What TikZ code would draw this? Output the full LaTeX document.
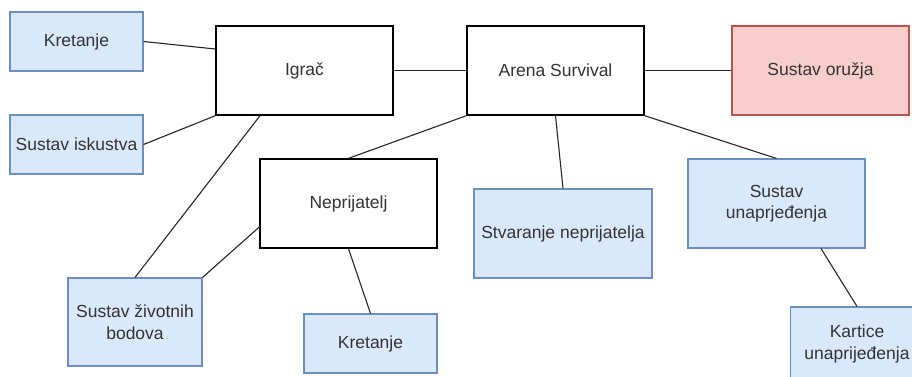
\documentclass[tikz,border=0pt]{standalone}
\usepackage{fontspec}
\setmainfont{Liberation Sans}
\definecolor{bluefill}{HTML}{DAE8FC}
\definecolor{bluestroke}{HTML}{6C8EBF}
\definecolor{redfill}{HTML}{F8CECC}
\definecolor{redstroke}{HTML}{B85450}
\definecolor{txt}{HTML}{333333}
\begin{document}
\begin{tikzpicture}[x=1pt,y=-1pt,
  box/.style={rectangle, inner sep=2pt, align=center, text=txt,
    font=\fontsize{17.5}{21.5}\selectfont},
  plain/.style={box, draw=black, line width=1.4pt, fill=white},
  bluebox/.style={box, draw=bluestroke, line width=1.1pt, fill=bluefill},
  redbox/.style={box, draw=redstroke, line width=1.1pt, fill=redfill},
  conn/.style={draw=black!85, line width=1.1pt}]
\useasboundingbox (0,0) rectangle (912,376);
\fill[white] (0,0) rectangle (912,376);

\node[bluebox, minimum width=133pt, minimum height=59pt] (kret1) at (76.5,41.5) {Kretanje};
\node[plain, minimum width=177pt, minimum height=89pt] (igrac) at (304.5,70.5) {Igrač};
\node[bluebox, minimum width=133pt, minimum height=59pt] (isk) at (76.5,144.5) {Sustav iskustva};
\node[plain, minimum width=177pt, minimum height=89pt] (arena) at (555.5,70.5) {Arena Survival};
\node[redbox, minimum width=177pt, minimum height=89pt] (oruzje) at (820.5,70.5) {Sustav oružja};
\node[plain, minimum width=177pt, minimum height=89pt] (nep) at (348.5,203.5) {Neprijatelj};
\node[bluebox, minimum width=134pt, minimum height=88pt] (zivot) at (135,322) {Sustav životnih\\bodova};
\node[bluebox, minimum width=133pt, minimum height=59pt] (kret2) at (370.5,343.5) {Kretanje};
\node[bluebox, minimum width=178pt, minimum height=89pt] (stvar) at (563,233.5) {Stvaranje neprijatelja};
\node[bluebox, minimum width=177pt, minimum height=89pt] (unap) at (776.5,203.5) {Sustav\\unaprjeđenja};
\node[bluebox, minimum width=133pt, minimum height=74pt] (kart) at (857,344) {Kartice\\unaprijeđenja};

\draw[conn] (kret1.east) -- ([yshift=21.5pt]igrac.west);
\draw[conn] (isk.east) -- (igrac.south west);
\draw[conn] ([xshift=-44.5pt]igrac.south) -- (zivot.north);
\draw[conn] ([yshift=-23.5pt]nep.west) -- (zivot.north east);
\draw[conn] (igrac.east) -- (arena.west);
\draw[conn] (arena.south west) -- (nep.north);
\draw[conn] (arena.south) -- (stvar.north);
\draw[conn] (arena.south east) -- (unap.north);
\draw[conn] (arena.east) -- (oruzje.west);
\draw[conn] (nep.south) -- (kret2.north);
\draw[conn] ([xshift=44.5pt]unap.south) -- (kart.north);
\end{tikzpicture}
\end{document}
